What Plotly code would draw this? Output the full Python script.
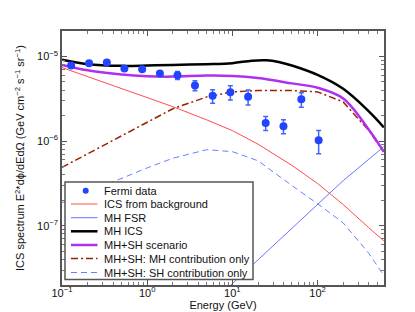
import plotly.graph_objects as go

# ---------------- data ----------------
fermi_E = [0.128, 0.208, 0.336, 0.54, 0.873, 1.41, 2.27, 3.64, 5.86, 9.47, 15.3, 24.6, 39.8, 64.5, 103]
fermi_F = [7.8e-6, 8.3e-6, 8.5e-6, 7.2e-6, 7.05e-6, 6.3e-6, 5.98e-6, 4.54e-6, 3.42e-6, 3.78e-6,
           3.33e-6, 1.64e-6, 1.5e-6, 3.11e-6, 1.02e-6]
fermi_err = [0.3e-6, 0.35e-6, 0.35e-6, 0.3e-6, 0.3e-6, 0.4e-6, 0.63e-6, 0.62e-6, 0.62e-6, 0.72e-6,
             0.67e-6, 0.31e-6, 0.28e-6, 0.6e-6, 0.31e-6]

E_grid = [0.1, 0.2, 0.5, 1, 2, 5, 10, 20, 50, 100, 200, 400, 600]
ics_bg = [7.38e-6, 5.77e-6, 4.18e-6, 3.27e-6, 2.55e-6, 1.78e-6, 1.33e-6, 9.2e-7, 5.16e-7, 3.15e-7,
          1.78e-7, 9.46e-8, 6.62e-8]
mh_ics_E = [0.1, 0.2, 0.5, 1, 2, 5, 10, 17, 25, 35, 50, 100, 200, 400, 600]
mh_ics = [9.12e-6, 8.09e-6, 7.73e-6, 7.8e-6, 7.94e-6, 8.09e-6, 8.32e-6, 8.9e-6, 9.0e-6, 8.6e-6,
          7.8e-6, 6.04e-6, 4.14e-6, 2.24e-6, 1.45e-6]
mhsh = [7.94e-6, 6.86e-6, 6.1e-6, 5.82e-6, 5.77e-6, 5.93e-6, 5.88e-6, 5.56e-6, 4.8e-6, 4.26e-6,
        3.18e-6, 1.36e-6, 7.45e-7]
mhsh_mh = [4.89e-7, 7.06e-7, 1.15e-6, 1.66e-6, 2.41e-6, 3.32e-6, 3.81e-6, 3.95e-6, 3.95e-6, 3.81e-6,
           2.9e-6, 1.33e-6, 7.45e-7]
mhsh_sh = [1.87e-7, 2.5e-7, 3.66e-7, 4.82e-7, 6.27e-7, 7.91e-7, 7.5e-7, 5.85e-7, 2.98e-7, 1.82e-7,
           1.08e-7, 4.72e-8, 2.58e-8]
fsr_E = [2, 5, 10, 20, 50, 100, 200, 400, 600]
mh_fsr = [5.5e-9, 1.08e-8, 2.07e-8, 3.95e-8, 9.3e-8, 1.78e-7, 3.41e-7, 6.1e-7, 8.6e-7]

x_ticks = [0.1, 1, 10, 100]
x_ticklabels = ["10<sup>−1</sup>", "10<sup>0</sup>", "10<sup>1</sup>", "10<sup>2</sup>"]
y_ticks = [1e-7, 1e-6, 1e-5]
y_ticklabels = ["10<sup>−7</sup>", "10<sup>−6</sup>", "10<sup>−5</sup>"]

legend_labels = ["Fermi data", "ICS from background", "MH FSR", "MH ICS", "MH+SH scenario",
                 "MH+SH: MH contribution only", "MH+SH: SH contribution only"]

# ---------------- styles ----------------
C_FERMI = "#2244ff"
C_RED = "#ff4d4d"
C_FSR = "#6677ff"
C_BLACK = "#000000"
C_PURPLE = "#b030f0"
C_BROWN = "#992200"
C_SH = "#6680ff"
FONT = "Liberation Sans, Arial, sans-serif"

fig = go.Figure()
fig.add_trace(go.Scatter(x=E_grid, y=ics_bg, mode="lines", line=dict(color=C_RED, width=1), showlegend=False))
fig.add_trace(go.Scatter(x=fsr_E, y=mh_fsr, mode="lines", line=dict(color=C_FSR, width=1), showlegend=False))
fig.add_trace(go.Scatter(x=E_grid, y=mhsh_sh, mode="lines", line=dict(color=C_SH, width=1, dash="6px,4px"), showlegend=False))
fig.add_trace(go.Scatter(x=E_grid, y=mhsh_mh, mode="lines", line=dict(color=C_BROWN, width=1.5, dash="7px,3px,2px,3px"), showlegend=False))
fig.add_trace(go.Scatter(x=E_grid, y=mhsh, mode="lines", line=dict(color=C_PURPLE, width=2.5, shape="spline"), showlegend=False))
fig.add_trace(go.Scatter(x=mh_ics_E, y=mh_ics, mode="lines", line=dict(color=C_BLACK, width=2.5, shape="spline"), showlegend=False))
fig.add_trace(go.Scatter(x=fermi_E, y=fermi_F, mode="markers",
                         marker=dict(color=C_FERMI, size=8),
                         error_y=dict(type="data", array=fermi_err, color="#4466ff", thickness=1.5, width=2.5),
                         showlegend=False))

# ---------------- manual legend (pixel-positioned) ----------------
L, R, T, B = 54, 376, 23, 277
W, H = R - L, B - T
def px(x):
    return (x - L) / W
def py(y):
    return (B - y) / H

shapes = [dict(type="rect", xref="paper", yref="paper", x0=px(57), x1=px(245), y0=py(271.5), y1=py(174),
               line=dict(color="#555555", width=1.5), fillcolor="white", layer="above")]
annotations = []
row_y = [182.7, 196.0, 209.7, 223.3, 237.0, 250.5, 264.5]
line_styles = [None,
               dict(color=C_RED, width=1),
               dict(color=C_FSR, width=1),
               dict(color=C_BLACK, width=2.5),
               dict(color=C_PURPLE, width=2.5),
               dict(color=C_BROWN, width=1.5, dash="7px,3px,2px,3px"),
               dict(color=C_SH, width=1, dash="6px,4px")]
for i, (lab, yy) in enumerate(zip(legend_labels, row_y)):
    if i == 0:
        shapes.append(dict(type="circle", xref="paper", yref="paper",
                           x0=px(77.7 - 3), x1=px(77.7 + 3), y0=py(yy + 3), y1=py(yy - 3),
                           fillcolor=C_FERMI, line=dict(color=C_FERMI, width=0), layer="above"))
    else:
        shapes.append(dict(type="line", xref="paper", yref="paper", x0=px(63), x1=px(89.5),
                           y0=py(yy), y1=py(yy), line=line_styles[i], layer="above"))
    annotations.append(dict(text=lab, xref="paper", yref="paper", x=px(93.5), y=py(yy),
                            xanchor="left", yanchor="middle", showarrow=False,
                            font=dict(family=FONT, size=11, color="#111111")))

axis_common = dict(type="log", showgrid=False, zeroline=False, showline=True, linecolor="#555555",
                   linewidth=1.5, mirror="allticks", ticks="inside", ticklen=5, tickcolor="#555555",
                   tickfont=dict(family=FONT, size=11, color="#111111"), tickmode="array")

minor_x = [m * 10 ** d for d in range(-1, 3) for m in range(2, 10)]
minor_y = [m * 10 ** d for d in range(-8, -4) for m in range(2, 10)]

fig.update_layout(
    width=415, height=312,
    margin=dict(l=L, r=415 - R, t=T, b=312 - B),
    paper_bgcolor="white", plot_bgcolor="white",
    font=dict(family=FONT, size=11, color="#111111"),
    xaxis=dict(axis_common, range=[-1, 2.78], tickvals=x_ticks, ticktext=x_ticklabels,
               ticklabelstandoff=-3,
               minor=dict(tickmode="array", tickvals=minor_x, ticks="inside", ticklen=3, tickcolor="#777777"),
               title=dict(text="Energy (GeV)", font=dict(family=FONT, size=11), standoff=0)),
    yaxis=dict(axis_common, range=[-7.7, -4.7], tickvals=y_ticks, ticktext=y_ticklabels,
               minor=dict(tickmode="array", tickvals=minor_y, ticks="inside", ticklen=3, tickcolor="#777777"),
               title=dict(text="ICS spectrum E<sup>2</sup>*dϕ/dEdΩ (GeV cm<sup>−2</sup> s<sup>−1</sup> sr<sup>−1</sup>)",
                          font=dict(family=FONT, size=11), standoff=10)),
    shapes=shapes, annotations=annotations,
)

fig.write_html("out.html")
